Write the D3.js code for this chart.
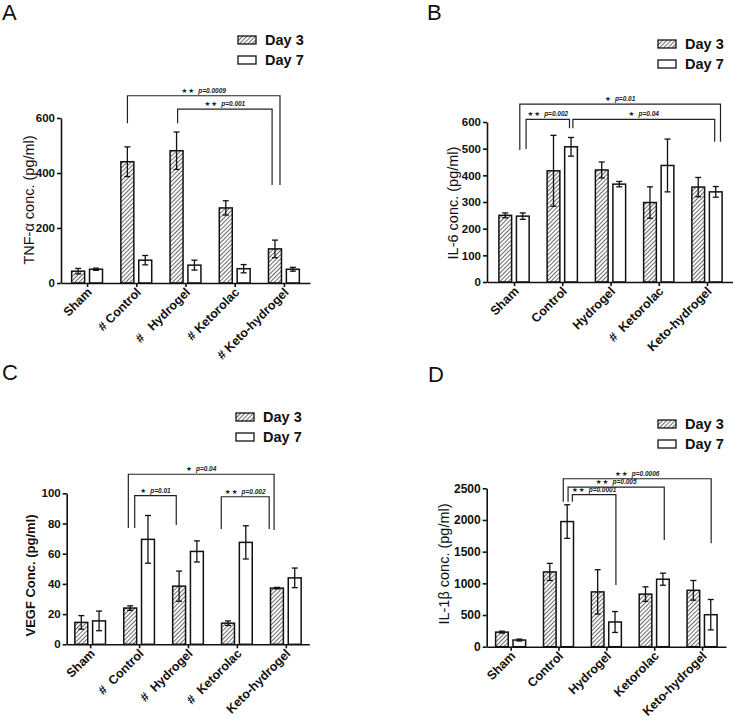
<!DOCTYPE html>
<html><head><meta charset="utf-8">
<script src="https://cdn.jsdelivr.net/npm/d3@7"></script>
<style>
body{margin:0;background:#fff}
svg{display:block}
text{font-family:"Liberation Sans", Arial, sans-serif}
</style>
</head><body>
<svg id="chart" width="733" height="725"></svg>
<script>
// ---------- shared categories ----------
const groups = ["Sham", "Control", "Hydrogel", "Ketorolac", "Keto-hydrogel"];
const seriesNames = ["Day 3", "Day 7"];

// ---------- Panel A : TNF-alpha ----------
const tnfDay3 = [43, 441, 481, 273, 124];
const tnfDay3Err = [10, 54, 68, 26, 32];
const tnfDay7 = [50, 83, 65, 52, 50];
const tnfDay7Err = [4, 17, 18, 15, 7];
const tnfTicks = [0, 200, 400, 600];
const tnfLabels = ["Sham", "# Control", "#\u00a0\u00a0 Hydrogel", "# Ketorolac", "# Keto-hydrogel"];
const tnfSig = [
  {stars: "★★", p: "p=0.0009", from: 0.82, to: 3.92, top: 681, leftEnd: 581, rightEnd: 356},
  {stars: "★★", p: "p=0.001",  from: 1.84, to: 3.76, top: 632, leftEnd: 581, rightEnd: 356}
];

// ---------- Panel B : IL-6 ----------
const il6Day3 = [250, 417, 420, 298, 356];
const il6Day3Err = [9, 133, 30, 59, 36];
const il6Day7 = [247, 507, 367, 437, 338];
const il6Day7Err = [12, 35, 10, 99, 20];
const il6Ticks = [0, 100, 200, 300, 400, 500, 600];
const il6Labels = ["Sham", "Control", "Hydrogel", "#\u00a0\u00a0Ketorolac", "Keto-hydrogel"];
const il6Sig = [
  {stars: "★", p: "p=0.01",  from: 0.12, to: 4.28, top: 667, leftEnd: 495, rightEnd: 526},
  {stars: "★★", p: "p=0.002", from: 0.25, to: 1.15, top: 610, leftEnd: 499, rightEnd: 577},
  {stars: "★", p: "p=0.04",  from: 1.22, to: 4.16, top: 610, leftEnd: 577, rightEnd: 526}
];

// ---------- Panel C : VEGF ----------
const vegfDay3 = [14.5, 24, 38.5, 14, 37.2];
const vegfDay3Err = [4.5, 1.5, 10, 1.5, 0.5];
const vegfDay7 = [15.5, 69.5, 61.5, 67.5, 44];
const vegfDay7Err = [6.5, 15.8, 7, 11, 6.5];
const vegfTicks = [0, 20, 40, 60, 80, 100];
const vegfLabels = ["Sham", "#\u00a0\u00a0Control", "#\u00a0\u00a0Hydrogel", "#\u00a0\u00a0Ketorolac", "Keto-hydrogel"];
const vegfSig = [
  {stars: "★", p: "p=0.04",  from: 0.78, to: 3.76, top: 112.6, leftEnd: 77, rightEnd: 75.7},
  {stars: "★", p: "p=0.01",  from: 0.91, to: 1.76, top: 98.4,  leftEnd: 77, rightEnd: 79},
  {stars: "★★", p: "p=0.002", from: 2.68, to: 3.66, top: 97.7, leftEnd: 76.4, rightEnd: 76.4}
];

// ---------- Panel D : IL-1beta ----------
const il1bDay3 = [230, 1180, 865, 830, 890];
const il1bDay3Err = [15, 135, 350, 115, 155];
const il1bDay7 = [105, 1975, 390, 1065, 505];
const il1bDay7Err = [15, 265, 165, 95, 240];
const il1bTicks = [0, 500, 1000, 1500, 2000, 2500];
const il1bLabels = ["Sham", "Control", "Hydrogel", "Ketorolac", "Keto-hydrogel"];
const il1bSig = [
  {stars: "★★", p: "p=0.0006", from: 1.10, to: 4.19, top: 2651, leftEnd: 2288, rightEnd: 1632},
  {stars: "★★", p: "p=0.005",  from: 1.20, to: 3.21, top: 2520, leftEnd: 2288, rightEnd: 1684},
  {stars: "★★", p: "p=0.0001", from: 1.29, to: 2.20, top: 2399, leftEnd: 2288, rightEnd: 974}
];

// ---------- drawing ----------
const svg = d3.select("#chart");
svg.append("rect").attr("width", 733).attr("height", 725).attr("fill", "#fff");
const defs = svg.append("defs");
const pat = defs.append("pattern").attr("id", "hatch")
  .attr("patternUnits", "userSpaceOnUse").attr("width", 3).attr("height", 3)
  .attr("patternTransform", "rotate(45)");
pat.append("rect").attr("width", 3).attr("height", 3).attr("fill", "#fff");
pat.append("line").attr("x1", 0.5).attr("y1", 0).attr("x2", 0.5).attr("y2", 3)
  .attr("stroke", "#6e6e6e").attr("stroke-width", 1.1);

const fills = ["url(#hatch)", "#fff"];

function drawPanel(cfg) {
  const g = svg.append("g");
  const x = d3.scalePoint().domain(groups).range(cfg.xRange).padding(cfg.xPad);
  const step = x.step();
  const xs = d3.scaleBand().domain(seriesNames)
    .range([-0.3135 * step, 0.3135 * step]).paddingInner(0.274);
  const xi = d3.scaleLinear().domain([0, groups.length - 1])
    .range([x(groups[0]), x(groups[groups.length - 1])]);
  const y = d3.scaleLinear().domain(cfg.yDomain).range(cfg.yRange);

  const rows = [];
  groups.forEach((gn, i) => {
    cfg.series.forEach((s, j) => {
      rows.push({group: gn, series: seriesNames[j], j, v: s.values[i], e: s.errors[i]});
    });
  });

  // bars
  g.selectAll("rect.bar").data(rows).join("rect").attr("class", "bar")
    .attr("x", d => x(d.group) + xs(d.series))
    .attr("width", xs.bandwidth())
    .attr("y", d => y(d.v))
    .attr("height", d => y(0) - y(d.v))
    .attr("fill", d => fills[d.j])
    .attr("stroke", "#111").attr("stroke-width", 1.5);

  // error bars
  const eb = g.selectAll("g.err").data(rows).join("g").attr("class", "err")
    .attr("transform", d => `translate(${x(d.group) + xs(d.series) + xs.bandwidth() / 2},0)`)
    .attr("stroke", "#111").attr("stroke-width", 1.3);
  eb.append("line").attr("y1", d => y(d.v - d.e)).attr("y2", d => y(d.v + d.e));
  eb.append("line").attr("x1", -3).attr("x2", 3).attr("y1", d => y(d.v + d.e)).attr("y2", d => y(d.v + d.e));
  eb.append("line").attr("x1", -3).attr("x2", 3).attr("y1", d => y(d.v - d.e)).attr("y2", d => y(d.v - d.e));

  // y axis
  const ya = g.append("g").attr("transform", `translate(${cfg.xRange[0]},0)`)
    .call(d3.axisLeft(y).tickValues(cfg.ticks).tickSize(4).tickSizeOuter(0).tickPadding(2).tickFormat(d3.format("d")));
  ya.selectAll("path,line").attr("stroke", "#111").attr("stroke-width", 1.6);
  ya.selectAll("text").attr("font-size", cfg.tickFont).attr("font-weight", "bold").attr("fill", "#111")
    .attr("font-family", '"Liberation Sans", Arial, sans-serif');

  // x axis
  const xa = g.append("g").attr("transform", `translate(0,${cfg.yRange[0]})`)
    .call(d3.axisBottom(x).tickSize(4).tickSizeOuter(0).tickFormat((d, i) => cfg.labels[i]));
  xa.selectAll("path,line").attr("stroke", "#111").attr("stroke-width", 1.6);
  xa.selectAll("text").attr("font-size", 12.5).attr("font-weight", "bold").attr("fill", "#111")
    .attr("font-family", '"Liberation Sans", Arial, sans-serif')
    .attr("text-anchor", "end").attr("x", 0).attr("y", 0).attr("dy", 0)
    .attr("transform", "translate(5,10) rotate(-45)");

  // y label
  g.append("text")
    .attr("transform", `translate(${cfg.yLabel.x},${cfg.yLabel.y}) rotate(-90)`)
    .attr("text-anchor", "middle").attr("dy", "0.35em")
    .attr("font-size", cfg.yLabel.size).attr("font-weight", cfg.yLabel.bold ? "bold" : "normal")
    .attr("fill", "#111").text(cfg.yLabel.text);

  // significance brackets
  cfg.sig.forEach(s => {
    const x1 = xi(s.from), x2 = xi(s.to);
    g.append("path")
      .attr("d", `M${x1},${y(s.leftEnd)}V${y(s.top)}H${x2}V${y(s.rightEnd)}`)
      .attr("fill", "none").attr("stroke", "#222").attr("stroke-width", 1.2);
    const t = g.append("text").attr("x", (x1 + x2) / 2).attr("y", y(s.top) - 3)
      .attr("text-anchor", "middle").attr("fill", "#222");
    t.append("tspan").attr("font-size", 6.5).attr("font-family", '"DejaVu Sans", sans-serif')
      .attr("letter-spacing", 1).text(s.stars + " ");
    t.append("tspan").attr("font-size", 6.5).attr("font-weight", "bold").attr("font-style", "italic")
      .text(s.p);
  });

  // legend
  const lg = g.append("g").attr("transform", `translate(${cfg.legend.x},${cfg.legend.y})`);
  seriesNames.forEach((n, j) => {
    lg.append("rect").attr("x", 0).attr("y", j * 20).attr("width", 18).attr("height", 8)
      .attr("fill", fills[j]).attr("stroke", "#111").attr("stroke-width", 1.3);
    lg.append("text").attr("x", 27).attr("y", j * 20 + 9).attr("font-size", 14.5)
      .attr("font-weight", "bold").attr("fill", "#111").text(n);
  });

  // panel letter
  g.append("text").attr("x", cfg.letter.x).attr("y", cfg.letter.y)
    .attr("font-size", 22).attr("fill", "#111").text(cfg.letter.text);
}

drawPanel({
  series: [{values: tnfDay3, errors: tnfDay3Err}, {values: tnfDay7, errors: tnfDay7Err}],
  ticks: tnfTicks, labels: tnfLabels, sig: tnfSig,
  xRange: [61, 310], xPad: 0.53, yDomain: [0, 600], yRange: [283, 118], tickFont: 11.5,
  yLabel: {text: "TNF-α conc. (pg/ml)", x: 29, y: 200, size: 14.5, bold: false},
  legend: {x: 238, y: 36}, letter: {text: "A", x: 2, y: 20}
});
drawPanel({
  series: [{values: il6Day3, errors: il6Day3Err}, {values: il6Day7, errors: il6Day7Err}],
  ticks: il6Ticks, labels: il6Labels, sig: il6Sig,
  xRange: [487, 734], xPad: 0.56, yDomain: [0, 600], yRange: [282, 122], tickFont: 11.5,
  yLabel: {text: "IL-6 conc. (pg/ml)", x: 452.5, y: 203, size: 14.5, bold: false},
  legend: {x: 658, y: 40}, letter: {text: "B", x: 427, y: 20}
});
drawPanel({
  series: [{values: vegfDay3, errors: vegfDay3Err}, {values: vegfDay7, errors: vegfDay7Err}],
  ticks: vegfTicks, labels: vegfLabels, sig: vegfSig,
  xRange: [66.7, 309.3], xPad: 0.48, yDomain: [0, 100], yRange: [644.3, 493.3], tickFont: 11.5,
  yLabel: {text: "VEGF Conc. (pg/ml)", x: 30.5, y: 575.5, size: 13, bold: true},
  legend: {x: 236, y: 413}, letter: {text: "C", x: 2, y: 380}
});
drawPanel({
  series: [{values: il1bDay3, errors: il1bDay3Err}, {values: il1bDay7, errors: il1bDay7Err}],
  ticks: il1bTicks, labels: il1bLabels, sig: il1bSig,
  xRange: [486.7, 726], xPad: 0.5, yDomain: [0, 2500], yRange: [646.7, 488.3], tickFont: 12,
  yLabel: {text: "IL-1β conc. (pg/ml)", x: 443.5, y: 564, size: 14.5, bold: false},
  legend: {x: 658, y: 420}, letter: {text: "D", x: 428, y: 382}
});
</script>
</body></html>
